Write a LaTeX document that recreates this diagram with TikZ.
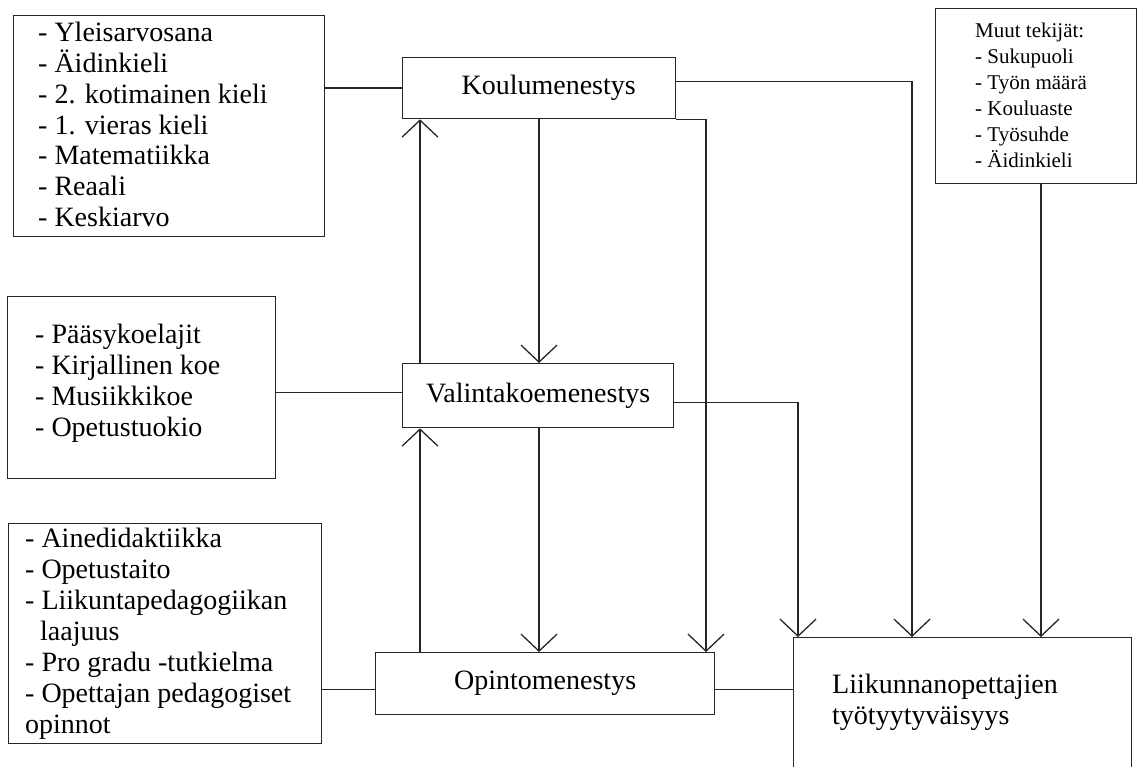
\documentclass[tikz,border=0pt]{standalone}
\usepackage{fontspec}
\setmainfont{Liberation Serif}
\usetikzlibrary{arrows.meta,calc}
\newcommand\mylist[2]{\vtop{\baselineskip=#1\lineskiplimit=-1000pt\lineskip=0pt #2}}
\begin{document}
\begin{tikzpicture}[x=1pt,y=-1pt,
  ln/.style={draw=black!85, line width=1.3pt},
  box/.style={ln, rectangle, inner sep=0pt, anchor=north west},
  arr/.style={ln, -{Straight Barb[length=17pt,width=36pt]}},
  big/.style={font=\fontsize{28}{31}\selectfont},
  small/.style={font=\fontsize{21}{26}\selectfont},
  lst/.style={inner sep=0pt, anchor=base west}
]
\useasboundingbox (0,0) rectangle (1137,767);

% boxes
\node[box, minimum width=311, minimum height=221] (box1) at (13,15) {};
\node[box, minimum width=268, minimum height=182] (box2) at (7,296) {};
\node[box, minimum width=313, minimum height=220] (box3) at (8,523) {};
\node[box, minimum width=201, minimum height=175] (muut) at (935,8) {};
\node[box, minimum width=338, minimum height=170] (liik) at (793,637) {};

\node[box, big, minimum width=273, minimum height=61] (koulu) at (402,57) {\kern19pt Koulumenestys};
\node[box, big, minimum width=271, minimum height=64] (valinta) at (402,363) {Valintakoemenestys};
\node[box, big, minimum width=339, minimum height=62] (opinto) at (375,652) {Opintomenestys};

% texts
\node[lst, big] (t1) at (38,42) {\mylist{30.7pt}{%
  \hbox{- Yleisarvosana}\hbox{- Äidinkieli}\hbox{- 2. kotimainen kieli}%
  \hbox{- 1. vieras kieli}\hbox{- Matematiikka}\hbox{- Reaali}\hbox{- Keskiarvo}}};
\node[lst, big] (t2) at (35,343) {\mylist{31.3pt}{%
  \hbox{- Pääsykoelajit}\hbox{- Kirjallinen koe}\hbox{- Musiikkikoe}\hbox{- Opetustuokio}}};
\node[lst, big] (t3) at (25,547) {\mylist{31pt}{%
  \hbox{- Ainedidaktiikka}\hbox{- Opetustaito}\hbox{- Liikuntapedagogiikan}%
  \hbox{\kern15pt laajuus}\hbox{- Pro gradu -tutkielma}\hbox{- Opettajan pedagogiset}%
  \hbox{opinnot}}};
\node[lst, small] (t4) at (975,38) {\mylist{26pt}{%
  \hbox{Muut tekijät:}\hbox{- Sukupuoli}\hbox{- Työn määrä}\hbox{- Kouluaste}%
  \hbox{- Työsuhde}\hbox{- Äidinkieli}}};
\node[lst, big] (t5) at (832,693) {\mylist{31pt}{%
  \hbox{Liikunnanopettajien}\hbox{työtyytyväisyys}}};

% helper x positions
\coordinate (xa) at (420,0);
\coordinate (xb) at (539,0);
\coordinate (xc) at (798,0);
\coordinate (xd) at (706,0);
\coordinate (xe) at (912,0);
\coordinate (xf) at (1041,0);

% plain connectors
\draw[ln] (koulu.west) -- (koulu.west -| box1.east);
\draw[ln] ([yshift=3pt]valinta.west) -- ([yshift=3pt]valinta.west -| box2.east);
\draw[ln] ([yshift=-6pt]opinto.west) -- ([yshift=-6pt]opinto.west -| box3.east);
\draw[ln] ([yshift=-6pt]opinto.east) -- ([yshift=-6pt]opinto.east -| liik.west);

% arrows
\draw[arr] (xb |- koulu.south) -- (xb |- valinta.north);
\draw[arr] (xa |- valinta.north) -- (xa |- koulu.south);
\draw[arr] (xb |- valinta.south) -- (xb |- opinto.north);
\draw[arr] (xa |- opinto.north) -- (xa |- valinta.south);
\draw[arr] ([yshift=-7pt]valinta.east) -| (xc |- liik.north);
\draw[arr] (koulu.south east) -| (xd |- opinto.north);
\draw[arr] ([yshift=6.5pt]koulu.east) -| (xe |- liik.north);
\draw[arr] (xf |- muut.south) -- (xf |- liik.north);
\end{tikzpicture}
\end{document}
